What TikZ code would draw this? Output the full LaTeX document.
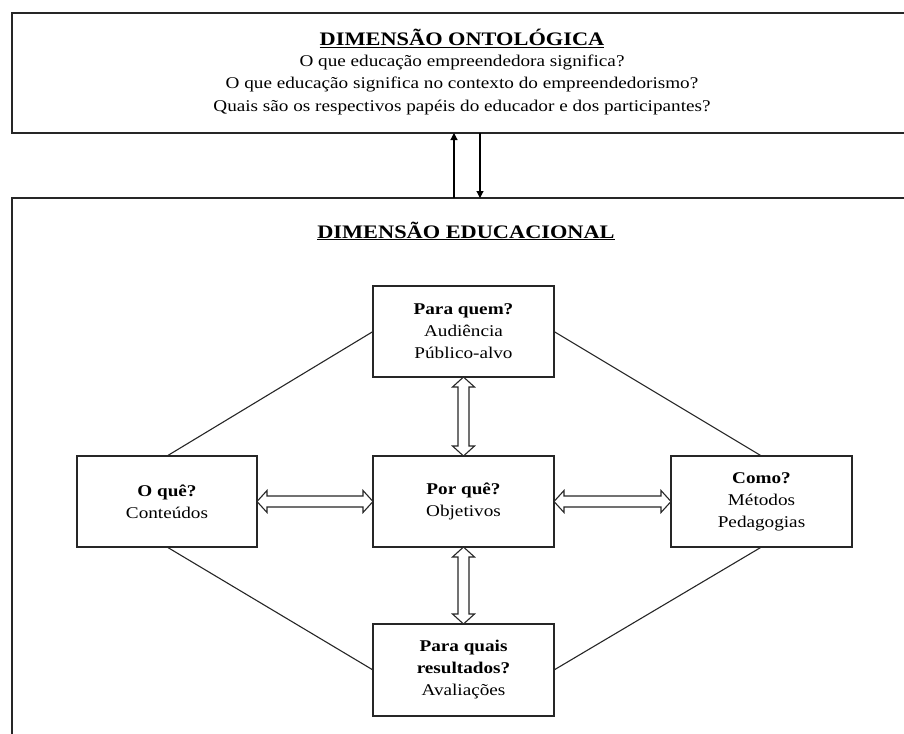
\documentclass[tikz,border=0pt]{standalone}
\usepackage{fontspec}
\setmainfont{Liberation Serif}[FakeStretch=1.17]
\usetikzlibrary{calc,arrows.meta}

% hollow two-headed block arrow between two anchors
\newcommand{\blockarrow}[2]{%
  \path ($(#1)!10pt!(#2)$) coordinate (ha) ($(#2)!10pt!(#1)$) coordinate (hb);
  \draw[hollow] (#1) -- ($(ha)!11pt!90:(#2)$) -- ($(ha)!5.5pt!90:(#2)$)
    -- ($(hb)!5.5pt!-90:(#1)$) -- ($(hb)!11pt!-90:(#1)$) -- (#2)
    -- ($(hb)!11pt!90:(#1)$) -- ($(hb)!5.5pt!90:(#1)$)
    -- ($(ha)!5.5pt!-90:(#2)$) -- ($(ha)!11pt!-90:(#2)$) -- cycle;}

\tikzset{
  frame/.style={draw=black!85, line width=1.6pt, anchor=north west, inner sep=0pt, outer sep=0pt},
  qbox/.style={draw=black!85, line width=1.3pt, fill=white, minimum width=181pt, minimum height=91pt,
    inner sep=0pt, outer sep=0pt, align=center, font=\fontsize{16.4pt}{22pt}\selectfont},
  title/.style={anchor=base, font=\fontsize{19.1pt}{22pt}\selectfont\bfseries},
  txt/.style={anchor=base, font=\fontsize{16.4pt}{22pt}\selectfont},
  link/.style={draw=black!85, line width=1.1pt},
  hollow/.style={draw=black!85, fill=white, line width=1.1pt, line join=miter},
  thin/.style={draw=black, line width=1.1pt, -{Triangle[length=7pt,width=7pt]}}
}

\begin{document}
\begin{tikzpicture}[x=1pt, y=-1pt]
\useasboundingbox (0,0) rectangle (904,733);
\clip (0,0) rectangle (904,733);

% outer frames, running past the right and bottom edges
\node[frame, minimum width=920pt, minimum height=120pt] (ont) at (12,13) {};
\node[frame, minimum width=920pt, minimum height=560pt] (edu) at (12,198) {};

% ontological dimension
\node[title] (ont-t) at (462,46) {\underline{DIMENSÃO ONTOLÓGICA}};
\node[txt] (ont-1) at (462,67) {O que educação empreendedora significa?};
\node[txt] (ont-2) at (462,89) {O que educação significa no contexto do empreendedorismo?};
\node[txt] (ont-3) at (462,111) {Quais são os respectivos papéis do educador e dos participantes?};

% links between the two dimensions
\coordinate (upx) at (454,0);
\coordinate (downx) at (480,0);
\draw[thin] (upx |- edu.north) -- (upx |- ont.south);
\draw[thin] (downx |- ont.south) -- (downx |- edu.north);

% educational dimension
\node[title] (edu-t) at (466,238) {\underline{DIMENSÃO EDUCACIONAL}};

\node[qbox] (quem) at (463.5,331.5) {\textbf{Para quem?}\\Audiência\\Público-alvo};
\node[qbox] (porque) at (463.5,501.5) {\textbf{Por quê?}\\Objetivos};
\node[qbox, minimum height=92pt] (result) at (463.5,670) {\textbf{Para quais}\\\textbf{resultados?}\\Avaliações};
\node[qbox, minimum width=180pt] (oque) at (167,501.5) {\textbf{O quê?}\\Conteúdos};
\node[qbox] (como) at (761.5,501.5) {\textbf{Como?}\\Métodos\\Pedagogias};

% diamond of links
\draw[link] (quem.west) -- (oque.north);
\draw[link] (quem.east) -- (como.north);
\draw[link] (oque.south) -- (result.west);
\draw[link] (como.south) -- (result.east);

% two-headed block arrows around the centre box
\blockarrow{oque.east}{porque.west}
\blockarrow{porque.east}{como.west}
\blockarrow{quem.south}{porque.north}
\blockarrow{porque.south}{result.north}
\end{tikzpicture}
\end{document}
